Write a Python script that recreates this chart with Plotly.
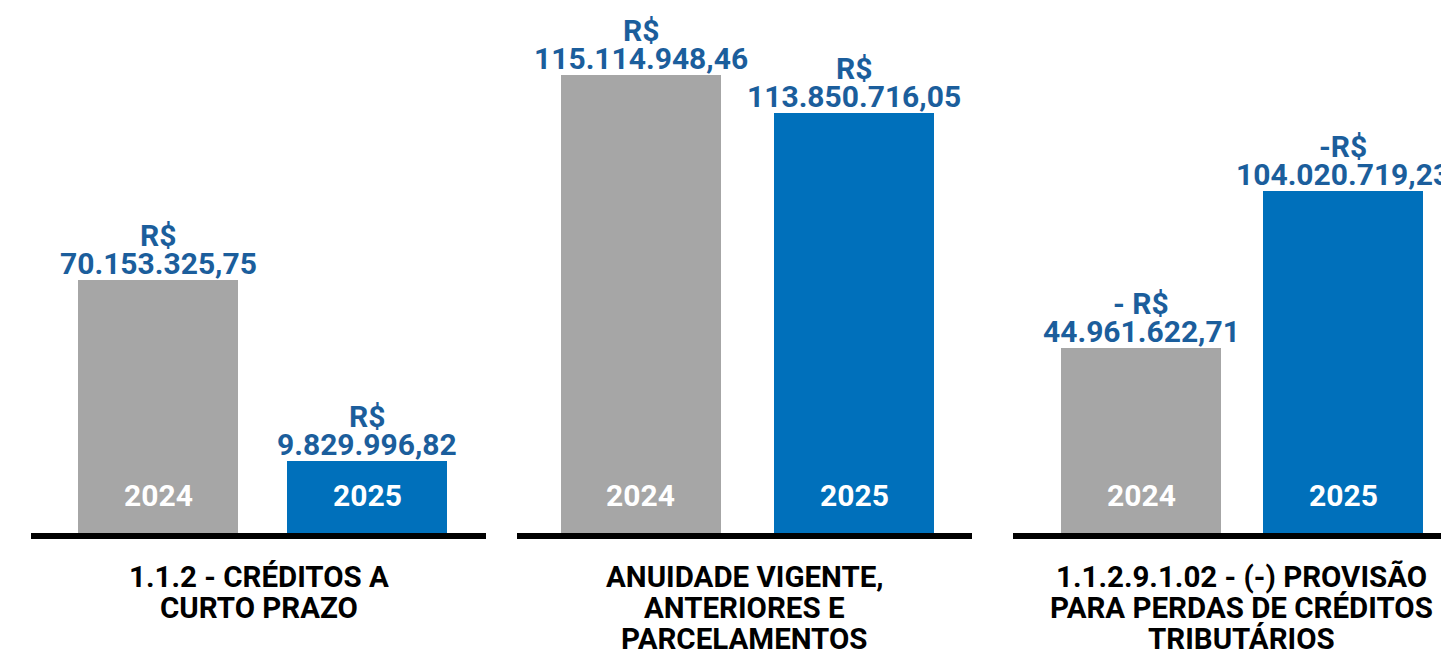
import plotly.graph_objects as go

# ---- data ----
years = ["2024", "2025"]
categories = [
    ["1.1.2 - CRÉDITOS A", "CURTO PRAZO"],
    ["ANUIDADE VIGENTE,", "ANTERIORES E", "PARCELAMENTOS"],
    ["1.1.2.9.1.02 - (-) PROVISÃO", "PARA PERDAS DE CRÉDITOS", "TRIBUTÁRIOS"],
]
creditos_curto_prazo = [70153325.75, 9829996.82]
anuidade_parcelamentos = [115114948.46, 113850716.05]
provisao_perdas = [44961622.71, 104020719.23]
currency_prefix = [["R$", "R$"], ["R$", "R$"], ["- R$", "-R$"]]

groups = [creditos_curto_prazo, anuidade_parcelamentos, provisao_perdas]

# ---- style / layout ----
W, H = 1441, 654
GRAY = "#a6a6a6"
BLUE = "#0070bb"
TEXT_BLUE = "#1b5e9c"
FONT = "Roboto"
bar_colors = [GRAY, BLUE]

# pixel extents of each panel (baseline) and bar geometry
panel_px = [(31, 486), (517, 972), (1013, 1441)]
label_center_px = [259, 744.5, 1241]
x_ranges = [(-0.607, 1.5675), (-0.5813, 1.5518), (-0.6337, 1.485)]
bar_widths = [0.763, 0.750, 0.792]
y_ranges = [(-14.166e6, 163.47e6), (100.0e6, 117.59e6), (-24.63e6, 175.87e6)]

PLOT_BOTTOM_PX = 533
y_dom = [(H - PLOT_BOTTOM_PX) / H, 1.0]


def brl(v):
    s = f"{v:,.2f}"
    return s.replace(",", "X").replace(".", ",").replace("X", ".")


def py(px):
    return (H - px) / H


fig = go.Figure()
annotations = []

for i, vals in enumerate(groups):
    sfx = "" if i == 0 else str(i + 1)
    base = y_ranges[i][0]
    fig.add_trace(go.Bar(
        x=[0, 1],
        y=[v - base for v in vals],
        base=[base, base],
        width=bar_widths[i],
        marker=dict(color=bar_colors, line=dict(width=0)),
        xaxis="x" + sfx,
        yaxis="y" + sfx,
        hoverinfo="skip",
        showlegend=False,
    ))
    x0, x1 = panel_px[i]
    fig.update_layout({
        "xaxis" + sfx: dict(
            domain=[x0 / W, min(x1 / W, 1.0)],
            range=list(x_ranges[i]),
            showgrid=False, zeroline=False, showticklabels=False, ticks="",
            showline=True, linecolor="black", linewidth=6,
            anchor="y" + sfx, fixedrange=True,
        ),
        "yaxis" + sfx: dict(
            domain=y_dom,
            range=list(y_ranges[i]),
            visible=False, showgrid=False, zeroline=False,
            anchor="x" + sfx, fixedrange=True,
        ),
    })

    for j, v in enumerate(vals):
        # value label: currency line above the amount
        annotations.append(dict(
            x=j, y=v, xref="x" + sfx, yref="y" + sfx,
            text=f"<b>{brl(v)}</b>", showarrow=False,
            xanchor="center", yanchor="middle", yshift=17,
            font=dict(family=FONT, size=30, color=TEXT_BLUE),
        ))
        annotations.append(dict(
            x=j, y=v, xref="x" + sfx, yref="y" + sfx,
            text=f"<b>{currency_prefix[i][j]}</b>", showarrow=False,
            xanchor="center", yanchor="middle", yshift=45,
            font=dict(family=FONT, size=30, color=TEXT_BLUE),
        ))
        # year inside bar
        annotations.append(dict(
            x=j, y=py(495.5), xref="x" + sfx, yref="paper",
            text=f"<b>{years[j]}</b>", showarrow=False,
            xanchor="center", yanchor="middle",
            font=dict(family=FONT, size=30, color="white"),
        ))

    # category title under the baseline
    for k, line in enumerate(categories[i]):
        annotations.append(dict(
            x=label_center_px[i] / W, y=py(576.7 + 31 * k),
            xref="paper", yref="paper",
            text=f"<b>{line}</b>", showarrow=False,
            xanchor="center", yanchor="middle",
            font=dict(family=FONT, size=29.5, color="black"),
        ))

fig.update_layout(
    width=W, height=H,
    margin=dict(l=0, r=0, t=0, b=0),
    paper_bgcolor="white", plot_bgcolor="white",
    annotations=annotations,
    bargap=0,
)

fig.write_html("out.html", config={"displayModeBar": False})
